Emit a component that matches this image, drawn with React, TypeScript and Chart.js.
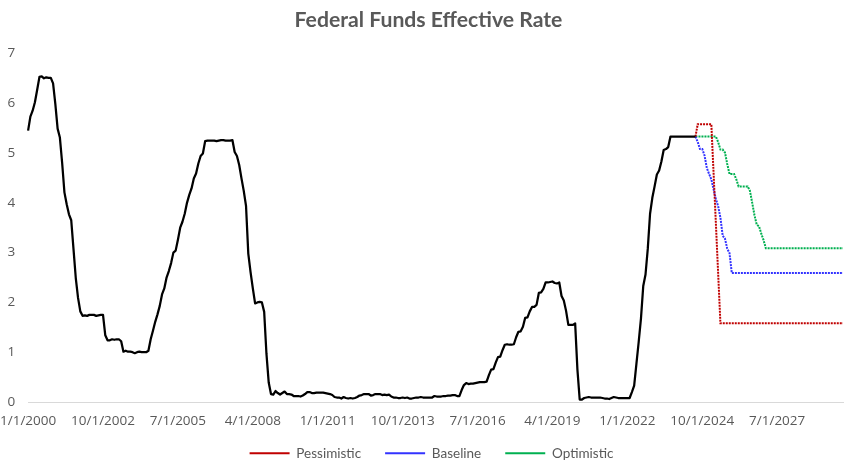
import React, { useEffect, useRef } from 'react';
import { Chart, registerables } from 'chart.js';

Chart.register(...registerables);

// Monthly categories, Jan 2000 .. Dec 2029
const FIRST_YEAR = 2000;
const LAST_YEAR = 2029;
const monthLabels: string[] = [];
for (let y = FIRST_YEAR; y <= LAST_YEAR; y++) {
  for (let m = 1; m <= 12; m++) monthLabels.push(`${m}/1/${y}`);
}
const LABEL_EVERY = 33;
const FORECAST_START = 294; // Jul 2024, where the scenarios branch off

const TITLE = 'Federal Funds Effective Rate';
const SERIES_NAMES = ['Federal Funds Effective Rate', 'Pessimistic', 'Baseline', 'Optimistic'];
const Y_TICKS = [0, 1, 2, 3, 4, 5, 6, 7];

// Actual monthly effective rate, Jan 2000 .. Jul 2024
const actualRate: number[] = [
  5.45, 5.73, 5.85, 6.02, 6.27, 6.53, 6.54, 6.50, 6.52, 6.51, 6.51, 6.40, // 2000
  5.98, 5.49, 5.31, 4.80, 4.21, 3.97, 3.77, 3.65, 3.07, 2.49, 2.09, 1.82, // 2001
  1.73, 1.74, 1.73, 1.75, 1.75, 1.75, 1.73, 1.74, 1.75, 1.75, 1.34, 1.24, // 2002
  1.24, 1.26, 1.25, 1.26, 1.26, 1.22, 1.01, 1.03, 1.01, 1.01, 1.00, 0.98, // 2003
  1.00, 1.01, 1.00, 1.00, 1.00, 1.03, 1.26, 1.43, 1.61, 1.76, 1.93, 2.16, // 2004
  2.28, 2.50, 2.63, 2.79, 3.00, 3.04, 3.26, 3.50, 3.62, 3.78, 4.00, 4.16, // 2005
  4.29, 4.49, 4.59, 4.79, 4.94, 4.99, 5.24, 5.25, 5.25, 5.25, 5.25, 5.24, // 2006
  5.25, 5.26, 5.26, 5.25, 5.25, 5.25, 5.26, 5.02, 4.94, 4.76, 4.49, 4.24, // 2007
  3.94, 2.98, 2.61, 2.28, 1.98, 2.00, 2.01, 2.00, 1.81, 0.97, 0.39, 0.16, // 2008
  0.15, 0.22, 0.18, 0.15, 0.18, 0.21, 0.16, 0.16, 0.15, 0.12, 0.12, 0.12, // 2009
  0.11, 0.13, 0.16, 0.20, 0.20, 0.18, 0.18, 0.19, 0.19, 0.19, 0.19, 0.18, // 2010
  0.17, 0.16, 0.14, 0.10, 0.09, 0.09, 0.07, 0.10, 0.08, 0.07, 0.08, 0.07, // 2011
  0.08, 0.10, 0.13, 0.14, 0.16, 0.16, 0.16, 0.13, 0.14, 0.16, 0.16, 0.16, // 2012
  0.14, 0.15, 0.14, 0.15, 0.11, 0.09, 0.09, 0.08, 0.08, 0.09, 0.08, 0.09, // 2013
  0.07, 0.07, 0.08, 0.09, 0.09, 0.10, 0.09, 0.09, 0.09, 0.09, 0.09, 0.12, // 2014
  0.11, 0.11, 0.11, 0.12, 0.12, 0.13, 0.13, 0.14, 0.14, 0.12, 0.12, 0.24, // 2015
  0.34, 0.38, 0.36, 0.37, 0.37, 0.38, 0.39, 0.40, 0.40, 0.40, 0.41, 0.54, // 2016
  0.65, 0.66, 0.79, 0.90, 0.91, 1.04, 1.15, 1.16, 1.15, 1.15, 1.16, 1.30, // 2017
  1.41, 1.42, 1.51, 1.69, 1.70, 1.82, 1.91, 1.91, 1.95, 2.19, 2.20, 2.27, // 2018
  2.40, 2.40, 2.41, 2.42, 2.39, 2.38, 2.40, 2.13, 2.04, 1.83, 1.55, 1.55, // 2019
  1.55, 1.58, 0.65, 0.05, 0.05, 0.08, 0.09, 0.10, 0.09, 0.09, 0.09, 0.09, // 2020
  0.09, 0.08, 0.07, 0.07, 0.06, 0.08, 0.10, 0.09, 0.08, 0.08, 0.08, 0.08, // 2021
  0.08, 0.08, 0.20, 0.33, 0.77, 1.21, 1.68, 2.33, 2.56, 3.08, 3.78, 4.10, // 2022
  4.33, 4.57, 4.65, 4.83, 5.06, 5.08, 5.12, 5.33, 5.33, 5.33, 5.33, 5.33, // 2023
  5.33, 5.33, 5.33, 5.33, 5.33, 5.33, 5.33, // 2024 Jan..Jul
];

// Scenario paths, Jul 2024 .. Dec 2029 (66 months)
const pessimistic: number[] = [
  5.33, 5.58, 5.58, 5.58, 5.58, 5.58, 5.58, 5.58, 4.58, 3.58,
  2.58, 1.58, 1.58, 1.58, 1.58, 1.58, 1.58, 1.58, 1.58, 1.58,
  1.58, 1.58, 1.58, 1.58, 1.58, 1.58, 1.58, 1.58, 1.58, 1.58,
  1.58, 1.58, 1.58, 1.58, 1.58, 1.58, 1.58, 1.58, 1.58, 1.58,
  1.58, 1.58, 1.58, 1.58, 1.58, 1.58, 1.58, 1.58, 1.58, 1.58,
  1.58, 1.58, 1.58, 1.58, 1.58, 1.58, 1.58, 1.58, 1.58, 1.58,
  1.58, 1.58, 1.58, 1.58, 1.58, 1.58,
];
const baseline: number[] = [
  5.33, 5.22, 5.08, 5.08, 4.95, 4.70, 4.58, 4.47, 4.27, 4.08,
  3.93, 3.70, 3.34, 3.28, 3.08, 2.99, 2.59, 2.59, 2.59, 2.59,
  2.59, 2.59, 2.59, 2.59, 2.59, 2.59, 2.59, 2.59, 2.59, 2.59,
  2.59, 2.59, 2.59, 2.59, 2.59, 2.59, 2.59, 2.59, 2.59, 2.59,
  2.59, 2.59, 2.59, 2.59, 2.59, 2.59, 2.59, 2.59, 2.59, 2.59,
  2.59, 2.59, 2.59, 2.59, 2.59, 2.59, 2.59, 2.59, 2.59, 2.59,
  2.59, 2.59, 2.59, 2.59, 2.59, 2.59,
];
const optimistic: number[] = [
  5.33, 5.33, 5.33, 5.33, 5.33, 5.33, 5.33, 5.33, 5.33, 5.33,
  5.22, 5.07, 5.07, 5.01, 4.78, 4.58, 4.58, 4.58, 4.47, 4.33,
  4.33, 4.33, 4.33, 4.33, 4.24, 4.00, 3.75, 3.56, 3.53, 3.38,
  3.25, 3.09, 3.09, 3.09, 3.09, 3.09, 3.09, 3.09, 3.09, 3.09,
  3.09, 3.09, 3.09, 3.09, 3.09, 3.09, 3.09, 3.09, 3.09, 3.09,
  3.09, 3.09, 3.09, 3.09, 3.09, 3.09, 3.09, 3.09, 3.09, 3.09,
  3.09, 3.09, 3.09, 3.09, 3.09, 3.09,
];

const pad = (arr: number[]) => (new Array(FORECAST_START).fill(null) as (number | null)[]).concat(arr);

const TEXT = '#595959';

// Excel centres its title and legend slightly right of the canvas centre;
// also let the x tick labels extend below the (compact) x-scale box without clipping.
const adjustBlocks = {
  id: 'adjustBlocks',
  afterLayout(chart: any) {
    if (chart.titleBlock) {
      chart.titleBlock.left += 7;
      chart.titleBlock.right += 7;
    }
    if (chart.legend) {
      chart.legend.left += 10;
      chart.legend.right += 10;
    }
    if (chart.scales && chart.scales.x) {
      chart.scales.x.bottom += 14;
    }
  },
};

export default function App() {
  const ref = useRef<HTMLCanvasElement | null>(null);
  useEffect(() => {
    if (!ref.current) return;
    const tickFont = { family: 'Open Sans', size: 13.5 };
    const legendFont = { family: 'Lato', size: 13.5 };
    const chart = new Chart(ref.current, {
      type: 'line',
      data: {
        labels: monthLabels,
        datasets: [
          {
            label: SERIES_NAMES[0],
            data: actualRate,
            borderColor: '#000000',
            borderWidth: 2.25,
            pointRadius: 0,
            tension: 0,
            borderJoinStyle: 'round',
          },
          {
            label: SERIES_NAMES[1],
            data: pad(pessimistic),
            borderColor: '#c00000',
            borderWidth: 2,
            borderDash: [2, 1],
            pointRadius: 0,
            tension: 0,
          },
          {
            label: SERIES_NAMES[2],
            data: pad(baseline),
            borderColor: '#3333ff',
            borderWidth: 2,
            borderDash: [2, 1],
            pointRadius: 0,
            tension: 0,
          },
          {
            label: SERIES_NAMES[3],
            data: pad(optimistic),
            borderColor: '#00b050',
            borderWidth: 2,
            borderDash: [2, 1],
            pointRadius: 0,
            tension: 0,
          },
        ],
      },
      options: {
        animation: false,
        responsive: false,
        maintainAspectRatio: false,
        layout: { padding: { left: 0, right: 8, top: 0, bottom: 0 } },
        plugins: {
          title: {
            display: true,
            text: TITLE,
            color: TEXT,
            font: { family: 'Lato', size: 21.2, weight: 'bold' },
            padding: { top: 7, bottom: 21 },
          },
          legend: {
            position: 'bottom',
            labels: {
              usePointStyle: true,
              pointStyle: 'line',
              pointStyleWidth: 40,
              color: TEXT,
              font: legendFont,
              padding: 24,
              filter: (item: any) => item.datasetIndex !== 0,
            },
          },
          tooltip: { enabled: false },
        },
        scales: {
          x: {
            type: 'category',
            offset: false,
            grid: { display: false, drawTicks: true, tickLength: 11 },
            border: { display: true, color: '#d9d9d9', width: 1 },
            ticks: {
              autoSkip: false,
              maxRotation: 0,
              minRotation: 0,
              padding: 0,
              color: TEXT,
              font: tickFont,
              callback: (_v: any, i: number) => (i % LABEL_EVERY === 0 ? monthLabels[i] : ''),
            },
            afterFit: (s: any) => {
              s.height = 20.5;
            },
          },
          y: {
            min: Y_TICKS[0],
            max: Y_TICKS[Y_TICKS.length - 1],
            grid: { display: false, drawTicks: false },
            border: { display: false },
            ticks: { stepSize: 1, padding: 13, color: TEXT, font: tickFont },
            afterFit: (s: any) => {
              s.width = 28;
            },
          },
        },
      },
      plugins: [adjustBlocks],
    } as any);
    return () => chart.destroy();
  }, []);
  return (
    <div style={{ position: 'fixed', left: 0, top: 0, width: 851, height: 470, background: '#fff' }}>
      <canvas ref={ref} width={851} height={470} style={{ width: 851, height: 470 }} />
    </div>
  );
}
